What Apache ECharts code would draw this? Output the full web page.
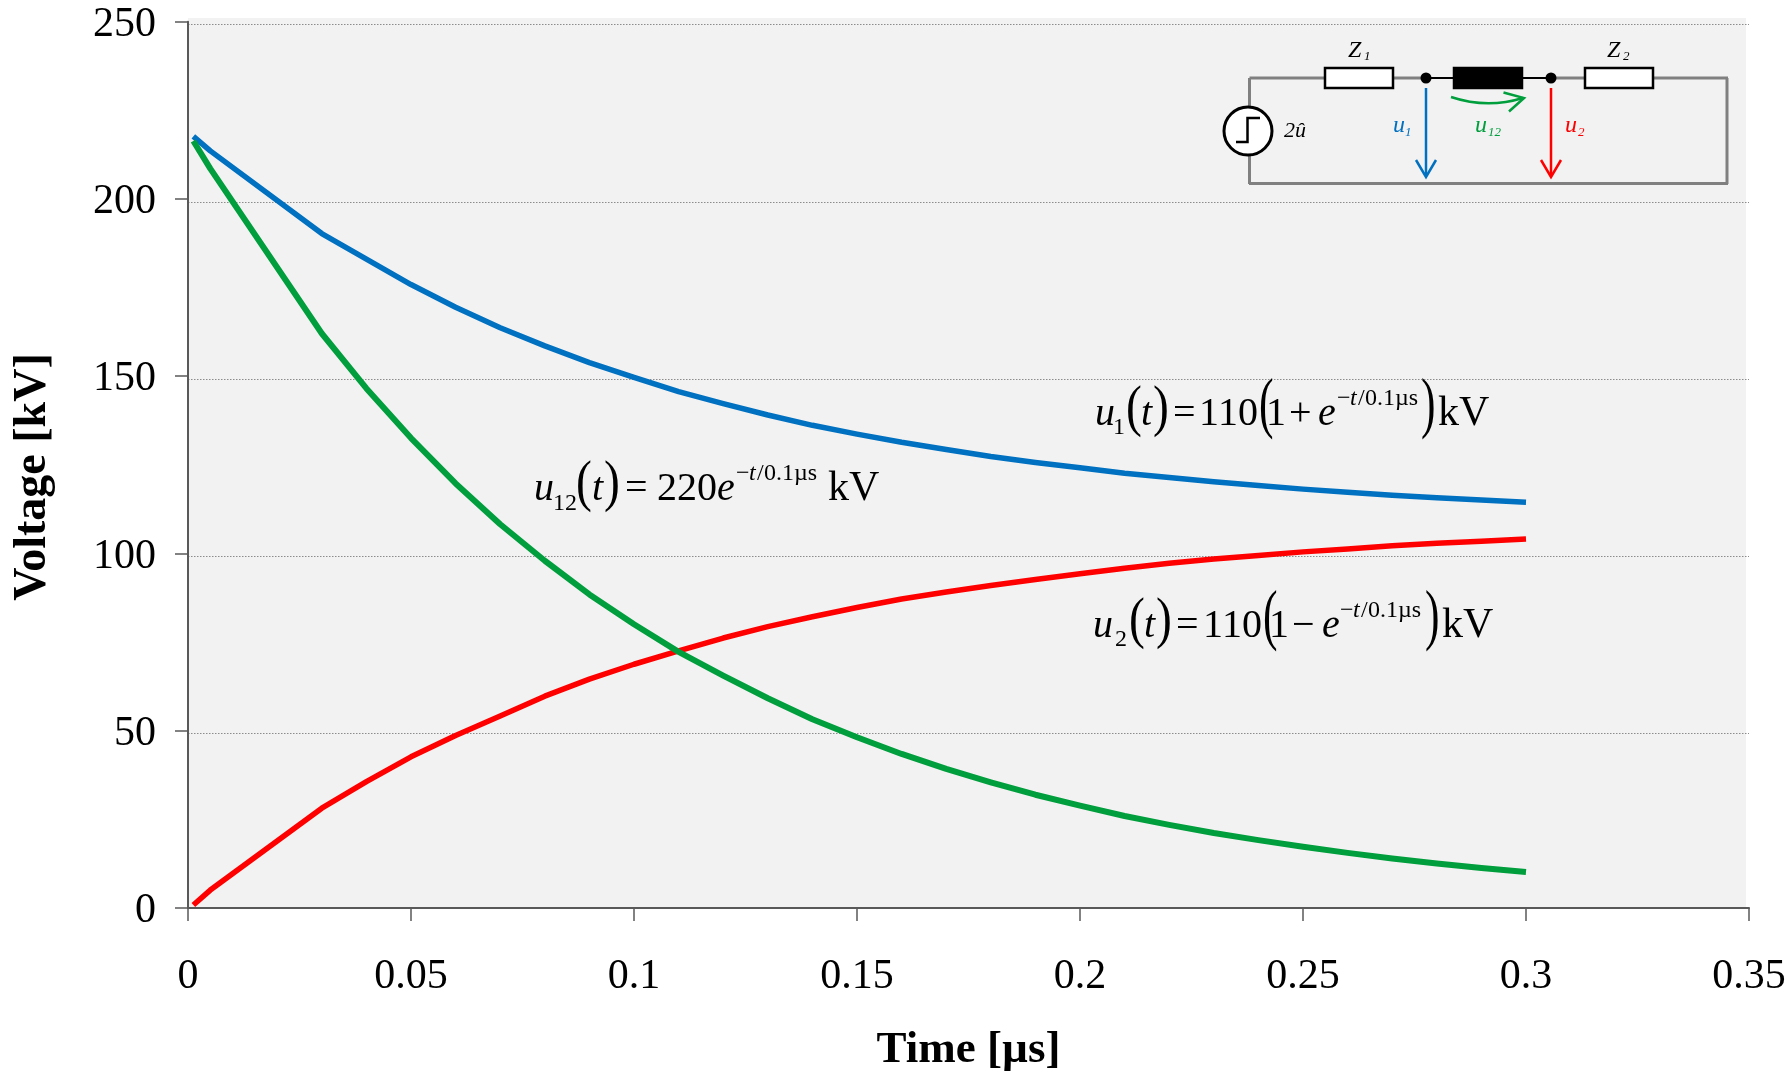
<!DOCTYPE html>
<html>
<head>
<meta charset="utf-8">
<style>html,body{margin:0;padding:0;background:#fff}#c{width:1790px;height:1074px}</style>
<script src="https://cdn.jsdelivr.net/npm/echarts@6/dist/echarts.min.js"></script>
</head>
<body>
<div id="c"></div>
<script>
var timeUs = [0.0012,0.005,0.03,0.04,0.05,0.06,0.07,0.08,0.09,0.10,0.11,0.12,0.13,0.14,0.15,0.16,0.17,0.18,0.19,0.20,0.21,0.22,0.23,0.24,0.25,0.26,0.27,0.28,0.29,0.30];
var u1Values = [218.5,214.4,191.1,183.9,176.7,170.3,164.5,159.4,154.7,150.5,146.5,143.1,139.9,137.0,134.5,132.2,130.2,128.2,126.5,125.0,123.5,122.3,121.1,120.0,119.0,118.1,117.3,116.6,115.9,115.3];
var u2Values = [1.7,5.9,29.0,36.5,43.5,49.5,55.0,60.6,65.4,69.6,73.4,77.0,80.2,83.0,85.6,88.0,90.0,91.8,93.5,95.1,96.7,98.1,99.3,100.3,101.3,102.1,103.0,103.7,104.3,104.9];
var u12Values = [217.2,209.4,162.9,147.4,133.4,120.6,109.1,98.8,89.3,80.9,73.1,66.4,60.0,54.1,49.0,44.3,40.1,36.3,32.8,29.7,26.8,24.3,22.0,20.0,18.1,16.4,14.8,13.4,12.1,11.0];
var xAxisTitle = 'Time [µs]';
var yAxisTitle = 'Voltage [kV]';
var FONT = '"Liberation Serif","Times New Roman",serif';

function pair(vals){ return timeUs.map(function(t,i){ return [t, vals[i]]; }); }

function mathPiece(p, color){
  var size = p[3];
  return {
    type:'text', x:p[1], y:p[2]-0.26*size, scaleX:p[5]||1, silent:true, z:50,
    style:{ text:p[0], fill:color||'#000', fontFamily:FONT, fontSize:size,
      fontStyle:p[4]?'italic':'normal', align:'left', verticalAlign:'middle' }
  };
}
function eqU(b, pieces){
  return pieces.map(function(p){ return mathPiece([p[0], p[1], p[2]===undefined?b:p[2], p[3]||40, p[4], p[5]]); });
}
var eq1 = eqU(425,[
  ['u',1095,,40,true],['1',1113,434,24],['(',1126,,56,false,.85],['t',1141,,40,true],[')',1153,,56,false,.85],
  ['=',1173,,40],['1',1199,,40],['1',1218,,40],['0',1238,,40],['(',1259,,67,false,.65],['1',1266,,40],
  ['+',1289,,40],['e',1318,,40,true],['−',1337,405,24],['t',1350,405,24,true],['/',1358,405,24],['0.1µs',1365,405,24],
  [')',1421,,67,false,.65],['kV',1438,,42]
]);
var eq2 = eqU(637,[
  ['u',1093,,40,true],['2',1115,646,24],['(',1129,,56,false,.85],['t',1144,,40,true],[')',1156,,56,false,.85],
  ['=',1176,,40],['1',1203,,40],['1',1222,,40],['0',1242,,40],['(',1263,,67,false,.65],['1',1269,,40],
  ['−',1292,,40],['e',1322,,40,true],['−',1340,617,24],['t',1353,617,24,true],['/',1361,617,24],['0.1µs',1368,617,24],
  [')',1425,,67,false,.65],['kV',1442,,42]
]);
var eq3 = eqU(500,[
  ['u',534,,40,true],['12',553,510,24],['(',576,,56,false,.85],['t',592,,40,true],[')',604,,56,false,.85],
  ['=',625,,40],['220',657,,40],['e',717,,40,true],['−',736,480,24],['t',749,480,24,true],['/',757,480,24],['0.1µs',764,480,24],
  ['kV',828,,42]
]);

var WIRE='#808080', BLUE='#0070C0', RED='#FF0000', GREEN='#009E3C';
function ln(x1,y1,x2,y2,c,w){ return {type:'line',silent:true,z:40,shape:{x1:x1,y1:y1,x2:x2,y2:y2},style:{stroke:c,lineWidth:w,lineCap:'butt'}}; }
function poly(pts,c,w,z){ return {type:'polyline',silent:true,z:z||41,shape:{points:pts},style:{stroke:c,lineWidth:w,fill:null,lineJoin:'miter'}}; }
function box(x,y,w,h,f){ return {type:'rect',silent:true,z:42,shape:{x:x,y:y,width:w,height:h},style:{fill:f,stroke:'#000',lineWidth:2.5}}; }
function dot(x,y,r){ return {type:'circle',silent:true,z:43,shape:{cx:x,cy:y,r:r},style:{fill:'#000'}}; }
function lab(t,x,b,s,c,it){ return mathPiece([t,x,b,s,it!==false],c); }
var circuit = [
  ln(1249.5,78,1426,78,WIRE,3), ln(1551,78,1728,78,WIRE,3), ln(1249,183.5,1728,183.5,WIRE,3),
  ln(1249.5,78,1249.5,184,WIRE,3), ln(1727,78,1727,184,WIRE,3), ln(1426,78,1552,78,'#000',2),
  box(1325,68,68,20,'#fff'), box(1585,68,68,20,'#fff'), box(1454,68,68,20,'#000'),
  dot(1426,78,5.5), dot(1551,78,5.5),
  {type:'circle',silent:true,z:42,shape:{cx:1248,cy:131,r:24},style:{fill:'#fff',stroke:'#000',lineWidth:3}},
  poly([[1236,142],[1247.5,142],[1247.5,118],[1260,118]],'#000',2.5,44),
  ln(1426,88,1426,176,BLUE,2.5), poly([[1416,160],[1426,177],[1436,160]],BLUE,2.5),
  ln(1551,88,1551,176,RED,2.5), poly([[1541,160],[1551,177],[1561,160]],RED,2.5),
  {type:'bezierCurve',silent:true,z:41,shape:{x1:1451,y1:97,cpx1:1487,cpy1:109,x2:1523,y2:98},style:{stroke:GREEN,lineWidth:2.5,fill:null}},
  poly([[1503.5,92.5],[1524,98],[1509,111.5]],GREEN,2.5),
  lab('Z',1348,57,24,'#000'), lab('1',1364,60,13,'#000'),
  lab('Z',1607,57,24,'#000'), lab('2',1623,60,13,'#000'),
  lab('2û',1284,137,22,'#000'),
  lab('u',1393,132,24,BLUE), lab('1',1405,136,13,BLUE),
  lab('u',1475,132,24,GREEN), lab('12',1488,136,13,GREEN),
  lab('u',1565,132,24,RED), lab('2',1578,136,13,RED)
];
var yTitle = {type:'text', x:33, y:477, rotation:Math.PI/2, silent:true, z:50,
  style:{text:yAxisTitle, fill:'#000', fontFamily:FONT, fontSize:46, fontWeight:'bold', align:'center', verticalAlign:'middle'}};

var chart = echarts.init(document.getElementById('c'), null, {renderer:'canvas'});
var axisLine = {show:true, onZero:false, lineStyle:{color:'#595959', width:2}};
var tick = {show:true, length:13, lineStyle:{color:'#595959', width:1.5}};
function lineSeries(name, vals, color, width, z){
  return {name:name, type:'line', xAxisIndex:2, yAxisIndex:2, data:pair(vals), showSymbol:false,
    smooth:false, lineStyle:{color:color, width:width, join:'round'}, z:z};
}
chart.setOption({
  animation:false,
  backgroundColor:'#fff',
  grid:[
    {id:'bg', left:188, right:44, top:18, bottom:166, show:true, backgroundColor:'#F2F2F2', borderWidth:0, z:0, outerBoundsMode:'none', containLabel:false},
    {id:'ticks', left:188, right:41, top:21.7, bottom:166, z:1, outerBoundsMode:'none', containLabel:false},
    {id:'plot', left:188, right:41, top:24.7, bottom:163, z:2, outerBoundsMode:'none', containLabel:false}
  ],
  xAxis:[
    {gridIndex:0, type:'value', min:0, max:1, show:false},
    {gridIndex:1, type:'value', min:0, max:0.35, interval:0.05, position:'bottom',
     axisLine:axisLine, axisTick:tick, splitLine:{show:false},
     axisLabel:{color:'#000', fontFamily:FONT, fontSize:42, margin:48, showMinLabel:true, showMaxLabel:true},
     name:xAxisTitle, nameLocation:'middle', nameGap:120,
     nameTextStyle:{color:'#000', fontFamily:FONT, fontSize:45, fontWeight:'bold'}},
    {gridIndex:2, type:'value', min:0, max:0.35, interval:0.05, show:false}
  ],
  yAxis:[
    {gridIndex:0, type:'value', min:0, max:1, show:false},
    {gridIndex:1, type:'value', min:0, max:250, interval:50, position:'left',
     axisLine:axisLine, axisTick:tick, axisLabel:{show:false}, splitLine:{show:false}},
    {gridIndex:2, type:'value', min:0, max:250, interval:50, position:'left',
     axisLine:{show:false}, axisTick:{show:false},
     axisLabel:{color:'#000', fontFamily:FONT, fontSize:42, margin:32},
     splitLine:{show:true, showMinLine:false, lineStyle:{color:'#8c8c8c', width:1, type:[1.5,1.5]}}}
  ],
  series:[
    lineSeries('u1', u1Values, BLUE, 5.5, 3),
    lineSeries('u2', u2Values, RED, 5.5, 4),
    lineSeries('u12', u12Values, GREEN, 6, 5)
  ],
  graphic:{elements: circuit.concat(eq1, eq2, eq3, [yTitle])}
});
</script>
</body>
</html>
